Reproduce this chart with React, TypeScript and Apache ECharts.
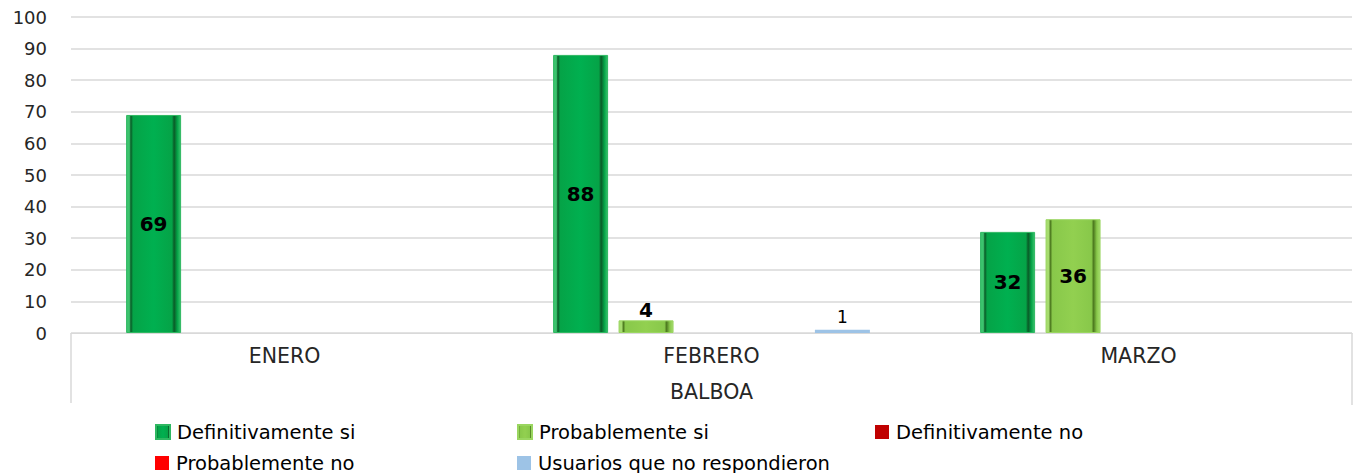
import React, { useEffect, useRef } from "react";
import * as echarts from "echarts";

const months = ["ENERO", "FEBRERO", "MARZO"];
const groupLabel = ["BALBOA"];
const seriesNames = [
  "Definitivamente si",
  "Probablemente si",
  "Definitivamente no",
  "Probablemente no",
  "Usuarios que no respondieron",
];
const defSi = [69, 88, 32];
const probSi = [null, 4, 36];
const defNo = [null, null, null];
const probNo = [null, null, null];
const noResp = [null, 1, null];
const yTicks = { min: 0, max: 100, interval: 10 };

const bevel = (rim: string, dark: string, base: string, mid: string) =>
  new echarts.graphic.LinearGradient(0, 0, 1, 0, [
    { offset: 0, color: rim },
    { offset: 0.05, color: rim },
    { offset: 0.08, color: dark },
    { offset: 0.12, color: base },
    { offset: 0.5, color: mid },
    { offset: 0.84, color: base },
    { offset: 0.88, color: dark },
    { offset: 0.94, color: base },
    { offset: 1, color: rim },
  ]);

export default function App() {
  const ref = useRef<HTMLDivElement>(null);
  useEffect(() => {
    if (!ref.current) return;
    const chart = echarts.init(ref.current, undefined, { renderer: "svg" });
    const font = "DejaVu Sans";
    const insideLabel = {
      show: true,
      position: "inside",
      fontFamily: font,
      fontWeight: "bold",
      fontSize: 20,
      color: "#000",
    };
    const legendPos = [
      [155, 422],
      [517, 422],
      [875, 422],
      [155, 453],
      [517, 453],
    ];
    const colors = ["#00B050", "#92D050", "#C00000", "#FF0000", "#9DC3E6"];
    chart.setOption({
      animation: false,
      grid: { left: 71, right: 5, top: 17, bottom: 140 },
      legend: seriesNames.map((n, i) => ({
        data: [n],
        left: legendPos[i][0],
        top: legendPos[i][1],
        icon: "rect",
        itemWidth: 14,
        itemHeight: 14,
        itemGap: 4,
        selectedMode: false,
        padding: 0,
        textStyle: {
          fontFamily: font,
          fontSize: 19.5,
          lineHeight: 18,
          color: "#000",
          padding: [0, 0, 0, 2],
        },
      })),
      xAxis: [
        {
          type: "category",
          data: months,
          axisLine: { show: true, lineStyle: { color: "#d9d9d9", width: 1 } },
          axisTick: { show: false },
          axisLabel: { margin: 12, fontFamily: font, fontSize: 20.5, color: "#262626" },
        },
        {
          type: "category",
          data: groupLabel,
          position: "bottom",
          offset: 36,
          axisLine: { show: false },
          axisTick: { show: false },
          axisLabel: { margin: 12, fontFamily: font, fontSize: 20.5, color: "#262626" },
        },
      ],
      yAxis: {
        type: "value",
        min: yTicks.min,
        max: yTicks.max,
        interval: yTicks.interval,
        axisLine: { show: false },
        axisTick: { show: false },
        splitLine: { lineStyle: { color: "#d9d9d9", width: 1.5 } },
        axisLabel: { margin: 24, fontFamily: font, fontSize: 18, color: "#262626" },
      },
      graphic: [
        { type: "line", shape: { x1: 71, y1: 333, x2: 71, y2: 403 }, style: { stroke: "#d9d9d9", lineWidth: 1.5 } },
        { type: "line", shape: { x1: 1352, y1: 333, x2: 1352, y2: 405 }, style: { stroke: "#d9d9d9", lineWidth: 1.5 } },
      ],
      series: [
        {
          name: seriesNames[0],
          type: "bar",
          data: defSi,
          barWidth: 55,
          barGap: "19%",
          itemStyle: {
            color: bevel("#3cc46e", "#0a5a27", "#05a347", "#00b050"),
            borderColor: "#2fb862",
            borderWidth: 1,
          },
          label: insideLabel,
        },
        {
          name: seriesNames[1],
          type: "bar",
          data: probSi.map((v) =>
            v !== null && v < 10
              ? { value: v, label: { position: "top", distance: 0 } }
              : v
          ),
          barWidth: 55,
          barGap: "19%",
          itemStyle: {
            color: bevel("#a6dc6e", "#4d7a1f", "#88c84a", "#92d050"),
            borderColor: "#9ad660",
            borderWidth: 1,
          },
          label: insideLabel,
        },
        {
          name: seriesNames[2],
          type: "bar",
          data: defNo,
          barWidth: 55,
          barGap: "19%",
          itemStyle: { color: colors[2] },
          label: insideLabel,
        },
        {
          name: seriesNames[3],
          type: "bar",
          data: probNo,
          barWidth: 55,
          barGap: "19%",
          itemStyle: { color: colors[3] },
          label: insideLabel,
        },
        {
          name: seriesNames[4],
          type: "bar",
          data: noResp,
          barWidth: 55,
          barGap: "19%",
          itemStyle: { color: colors[4] },
          label: {
            show: true,
            position: "top",
            distance: 4,
            fontFamily: font,
            fontSize: 17,
            color: "#000",
          },
        },
      ],
    });
    return () => chart.dispose();
  }, []);
  return (
    <div
      ref={ref}
      style={{ position: "fixed", left: 0, top: 0, width: 1357, height: 473, background: "#fff" }}
    />
  );
}
